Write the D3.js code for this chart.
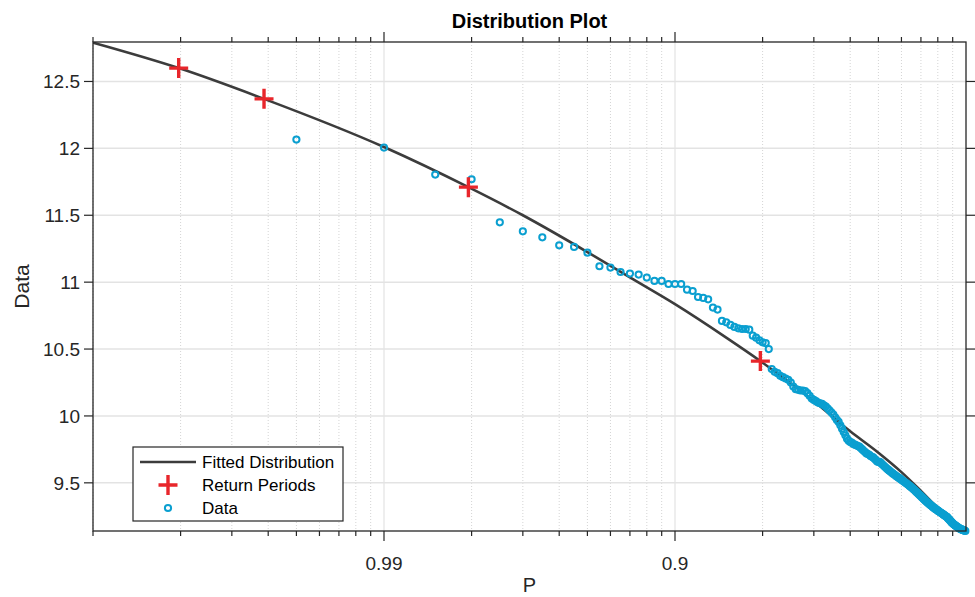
<!DOCTYPE html>
<html>
<head>
<meta charset="utf-8">
<script src="https://cdn.jsdelivr.net/npm/d3@7"></script>
<style>
  body { margin: 0; background: #fff; }
  svg { display: block; font-family: "Liberation Sans", Arial, Helvetica, sans-serif; }
</style>
</head>
<body>
<div id="container"></div>
<script>
// Fitted distribution (non-exceedance probability P -> value)
const fitP = [0.999, 0.99803, 0.99613, 0.99, 0.9805, 0.97, 0.95, 0.93, 0.9, 0.85, 0.8035, 0.7, 0.6, 0.5, 0.4, 0.3, 0.2, 0.1, 0.05, 0.005];
const fitValues = [12.79, 12.60, 12.37, 12.01, 11.71, 11.50, 11.225, 11.035, 10.835, 10.585, 10.41, 10.11, 9.885, 9.725, 9.58, 9.44, 9.314, 9.22, 9.18, 9.14];

// Return period markers: probability and level
const returnP = [0.99803, 0.99613, 0.9805, 0.8035];
const returnLevels = [12.60, 12.37, 11.71, 10.41];

// Observed data, sorted from largest to smallest (Weibull plotting position)
const dataValues = [
  12.066, 12.006, 11.804, 11.769, 11.447, 11.38, 11.335, 11.275, 11.263, 11.221,
  11.119, 11.109, 11.076, 11.064, 11.057, 11.034, 11.009, 11.009, 10.986, 10.986,
  10.986, 10.944, 10.934, 10.889, 10.882, 10.872, 10.81, 10.795, 10.71, 10.70,
  10.68, 10.665, 10.655, 10.65, 10.65, 10.645, 10.60, 10.585, 10.565, 10.55,
  10.545, 10.50,
  10.35, 10.33, 10.32, 10.30, 10.29, 10.28, 10.27, 10.25, 10.22, 10.20,
  10.195, 10.19, 10.19, 10.185, 10.17, 10.15, 10.13, 10.12, 10.11, 10.10,
  10.095, 10.09, 10.08, 10.07, 10.055, 10.04, 10.025, 10.01, 9.99, 9.97,
  9.955, 9.93, 9.905, 9.88, 9.855, 9.83, 9.815, 9.805, 9.80, 9.79,
  9.785, 9.78, 9.775, 9.77, 9.76, 9.75, 9.74, 9.73, 9.72, 9.715,
  9.71, 9.70, 9.695, 9.69, 9.68, 9.67, 9.66, 9.655,
  9.657, 9.649, 9.639, 9.631, 9.622, 9.614, 9.605, 9.598, 9.591, 9.584,
  9.577, 9.570, 9.564, 9.558, 9.551, 9.546, 9.540, 9.535, 9.529, 9.523,
  9.517, 9.512, 9.506, 9.500, 9.495, 9.489, 9.483, 9.477, 9.471, 9.465,
  9.459, 9.452, 9.446, 9.439, 9.432, 9.425, 9.419, 9.412, 9.406, 9.400,
  9.393, 9.387, 9.380, 9.374, 9.367, 9.362, 9.355, 9.350, 9.345, 9.339,
  9.334, 9.329, 9.324, 9.318, 9.314, 9.309, 9.305, 9.301, 9.297, 9.292,
  9.288, 9.284, 9.280, 9.276, 9.272, 9.268, 9.264, 9.260, 9.256, 9.252,
  9.248, 9.245, 9.238, 9.232, 9.226, 9.221, 9.214, 9.208, 9.202, 9.197,
  9.192, 9.188, 9.184, 9.180, 9.177, 9.173, 9.170, 9.166, 9.162, 9.159,
  9.156, 9.154, 9.152, 9.150, 9.148, 9.146, 9.144, 9.142, 9.140
];

const yTicks = [9.5, 10, 10.5, 11, 11.5, 12, 12.5];
const xMajor = [0.99, 0.9];

// Define constants
const width = 975,
  height = 597;
const margin = { top: 42, right: 9, bottom: 66, left: 93 };

const svg = d3
  .select("div#container")
  .append("svg")
  .attr("width", width)
  .attr("height", height);

// Set Scales (x is log of exceedance probability 1-P)
const x = d3.scaleLog().domain([0.001, 1]).range([margin.left, width - margin.right]);
const y = d3.scaleLinear().domain([9.14, 12.795]).range([height - margin.bottom, margin.top]);
const xp = (p) => x(1 - p);

const x0 = margin.left, x1 = width - margin.right,
  y0 = margin.top, y1 = height - margin.bottom;

const minor = x.ticks().filter((d) => d < 1 && !xMajor.some((m) => Math.abs(1 - m - d) < 1e-9));

// Grid
const grid = svg.append("g");
grid.selectAll("line.minor")
  .data(minor)
  .enter()
  .append("line")
  .attr("x1", (d) => x(d)).attr("x2", (d) => x(d))
  .attr("y1", y0).attr("y2", y1)
  .attr("stroke", "#d4d4d4")
  .attr("stroke-width", 1)
  .attr("stroke-dasharray", "1,2");
grid.selectAll("line.vmajor")
  .data(xMajor)
  .enter()
  .append("line")
  .attr("x1", (d) => xp(d)).attr("x2", (d) => xp(d))
  .attr("y1", y0).attr("y2", y1)
  .attr("stroke", "#e3e3e3")
  .attr("stroke-width", 1.2);
grid.selectAll("line.h")
  .data(yTicks)
  .enter()
  .append("line")
  .attr("x1", x0).attr("x2", x1)
  .attr("y1", (d) => y(d)).attr("y2", (d) => y(d))
  .attr("stroke", "#e3e3e3")
  .attr("stroke-width", 1.5);

// Clip for plot area
svg.append("clipPath").attr("id", "clip")
  .append("rect").attr("x", x0).attr("y", y0).attr("width", x1 - x0).attr("height", y1 - y0);

// Fitted curve
const fit = fitP.map((p, i) => [xp(p), y(fitValues[i])]).sort((a, b) => a[0] - b[0]);
svg.append("path")
  .attr("clip-path", "url(#clip)")
  .attr("d", d3.line().curve(d3.curveMonotoneX)(fit))
  .attr("fill", "none")
  .attr("stroke", "#3c3c3c")
  .attr("stroke-width", 2.6);

// Data circles
const n = dataValues.length;
svg.append("g")
  .selectAll("circle")
  .data(dataValues)
  .enter()
  .append("circle")
  .attr("cx", (d, i) => xp(1 - (i + 1) / (n + 1)))
  .attr("cy", (d) => y(d))
  .attr("r", 3.1)
  .attr("fill", "none")
  .attr("stroke", "#0a9fd0")
  .attr("stroke-width", 2);

// Return period markers
const crossPath = "M-9.5,0H9.5M0,-10V10";
svg.append("g")
  .selectAll("path")
  .data(returnP)
  .enter()
  .append("path")
  .attr("transform", (d, i) => `translate(${xp(d)},${y(returnLevels[i])})`)
  .attr("d", crossPath)
  .attr("stroke", "#e8262b")
  .attr("stroke-width", 3.4);

// Axes
const axisColor = "#262626";
const ax = svg.append("g").attr("stroke", axisColor).attr("fill", "none");
ax.append("rect").attr("x", x0).attr("y", y0).attr("width", x1 - x0).attr("height", y1 - y0)
  .attr("stroke-width", 1.3);

const tickLines = (data, fn) => ax.selectAll(null).data(data).enter().append("line").each(fn);
// x ticks (outward, top and bottom)
tickLines(minor, function (d) {
  const g = d3.select(this.parentNode);
  g.append("line").attr("x1", x(d)).attr("x2", x(d)).attr("y1", y1).attr("y2", y1 + 5);
  g.append("line").attr("x1", x(d)).attr("x2", x(d)).attr("y1", y0).attr("y2", y0 - 5);
});
tickLines(xMajor, function (d) {
  const g = d3.select(this.parentNode);
  g.append("line").attr("x1", xp(d)).attr("x2", xp(d)).attr("y1", y1).attr("y2", y1 + 10);
  g.append("line").attr("x1", xp(d)).attr("x2", xp(d)).attr("y1", y0).attr("y2", y0 - 10);
});
// y ticks (outward, left and right)
tickLines(yTicks, function (d) {
  const g = d3.select(this.parentNode);
  g.append("line").attr("x1", x0 - 9).attr("x2", x0).attr("y1", y(d)).attr("y2", y(d));
  g.append("line").attr("x1", x1).attr("x2", x1 + 9).attr("y1", y(d)).attr("y2", y(d));
});
ax.selectAll("line").attr("stroke-width", 1.2);

// Tick labels
svg.append("g")
  .selectAll("text")
  .data(yTicks)
  .enter()
  .append("text")
  .attr("x", x0 - 13)
  .attr("y", (d) => y(d))
  .attr("dy", "0.36em")
  .attr("text-anchor", "end")
  .attr("font-size", 19)
  .attr("fill", axisColor)
  .text((d) => d);
svg.append("g")
  .selectAll("text")
  .data(xMajor)
  .enter()
  .append("text")
  .attr("x", (d) => xp(d))
  .attr("y", 570)
  .attr("text-anchor", "middle")
  .attr("font-size", 19)
  .attr("fill", axisColor)
  .text((d) => d);

// Axis labels and title
svg.append("text")
  .attr("x", (x0 + x1) / 2).attr("y", 592)
  .attr("text-anchor", "middle")
  .attr("font-size", 20)
  .attr("fill", axisColor)
  .text("P");
svg.append("text")
  .attr("transform", `translate(29,${(y0 + y1) / 2}) rotate(-90)`)
  .attr("text-anchor", "middle")
  .attr("font-size", 21)
  .attr("fill", axisColor)
  .text("Data");
svg.append("text")
  .attr("x", (x0 + x1) / 2).attr("y", 28)
  .attr("text-anchor", "middle")
  .attr("font-size", 20)
  .attr("font-weight", "bold")
  .attr("fill", "#000")
  .text("Distribution Plot");

// Legend
const lg = svg.append("g").attr("transform", "translate(133,447)");
lg.append("rect").attr("width", 210).attr("height", 74)
  .attr("fill", "#fff").attr("stroke", axisColor).attr("stroke-width", 1.2);
const items = ["Fitted Distribution", "Return Periods", "Data"];
lg.selectAll("text")
  .data(items)
  .enter()
  .append("text")
  .attr("x", 69)
  .attr("y", (d, i) => 15 + i * 23)
  .attr("dy", "0.36em")
  .attr("font-size", 17)
  .attr("fill", "#000")
  .text((d) => d);
lg.append("line").attr("x1", 7).attr("x2", 63).attr("y1", 15).attr("y2", 15)
  .attr("stroke", "#3c3c3c").attr("stroke-width", 2.6);
lg.append("path").attr("transform", "translate(35,38)").attr("d", crossPath)
  .attr("stroke", "#e8262b").attr("stroke-width", 3.4);
lg.append("circle").attr("cx", 35).attr("cy", 61).attr("r", 3.1)
  .attr("fill", "none").attr("stroke", "#0a9fd0").attr("stroke-width", 2);
</script>
</body>
</html>
